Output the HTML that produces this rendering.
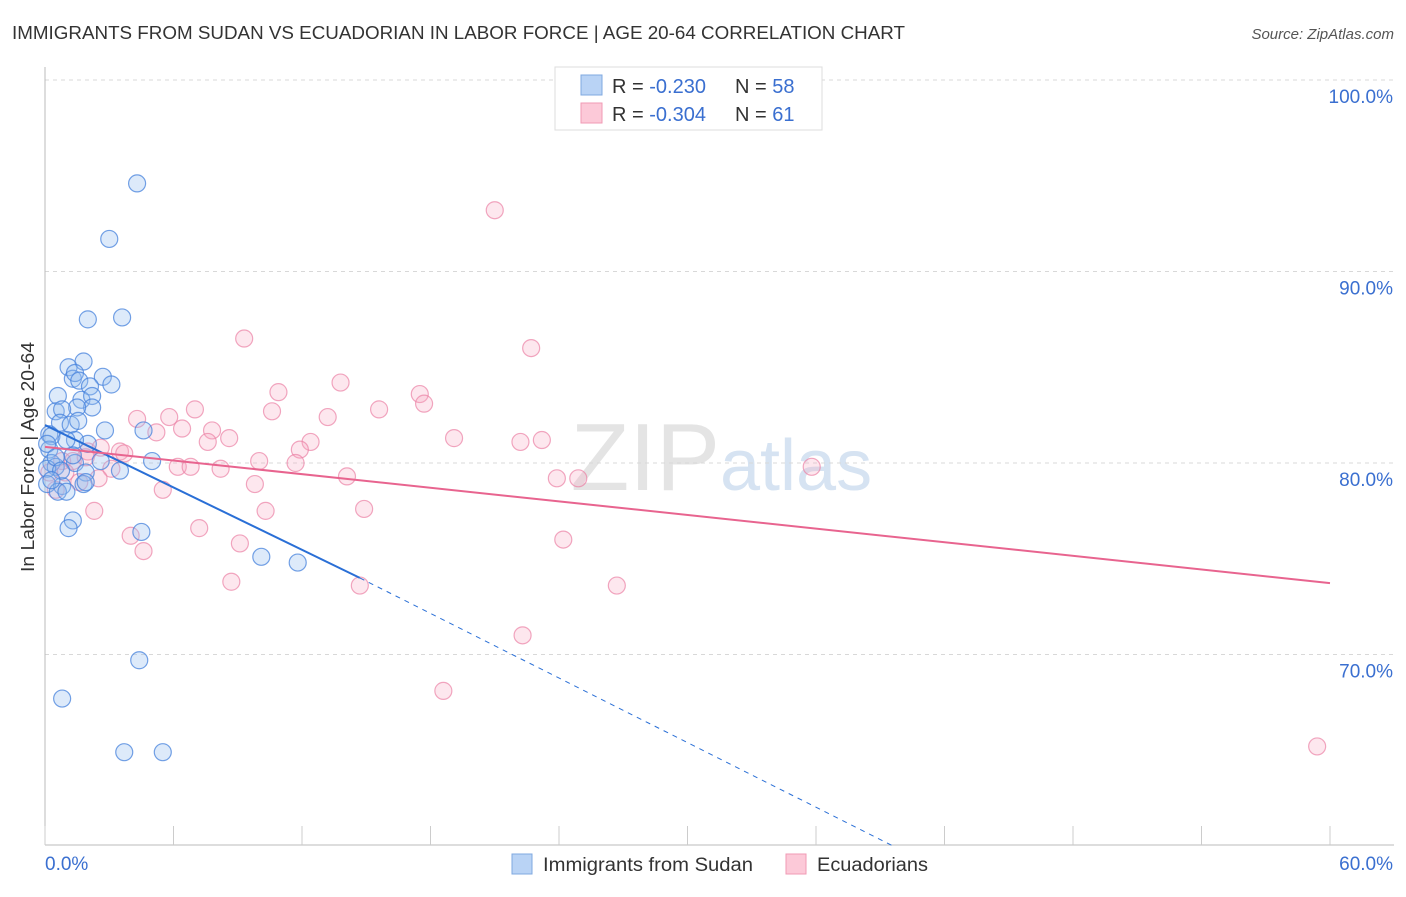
<!DOCTYPE html>
<html><head><meta charset="utf-8">
<style>
body{margin:0;background:#fff;font-family:"Liberation Sans",sans-serif;}
svg text{font-family:"Liberation Sans",sans-serif;}
</style></head>
<body>
<svg id="chart" width="1406" height="892" xmlns="http://www.w3.org/2000/svg">
<text x="12" y="39" font-size="18" fill="#333" textLength="893" lengthAdjust="spacingAndGlyphs">IMMIGRANTS FROM SUDAN VS ECUADORIAN IN LABOR FORCE | AGE 20-64 CORRELATION CHART</text>
<text x="1394" y="39" font-size="15" fill="#555" text-anchor="end" font-style="italic">Source: ZipAtlas.com</text>
<text x="720" y="490" font-size="96" fill="#e4e4e4" text-anchor="end" font-family="Liberation Serif">ZIP</text>
<text x="720" y="490" font-size="72" fill="#d6e3f2">atlas</text>
<g id="grid"></g>
<g id="axes"></g>
<g id="points"></g>
<g id="trends"></g>
<text transform="translate(34,457) rotate(-90)" font-size="18" fill="#333" text-anchor="middle" textLength="230" lengthAdjust="spacingAndGlyphs">In Labor Force | Age 20-64</text>
<g>
<rect x="555" y="67" width="267" height="63" fill="#fff" stroke="#ddd"/>
<rect x="581" y="75" width="21" height="20" fill="#b9d3f5" stroke="#7fa8e0"/>
<rect x="581" y="103" width="21" height="20" fill="#fcc9d8" stroke="#f09ab4"/>
<text x="612" y="93" font-size="20" fill="#333">R = <tspan fill="#3a6fd0">-0.230</tspan></text>
<text x="735" y="93" font-size="20" fill="#333">N = <tspan fill="#3a6fd0">58</tspan></text>
<text x="612" y="121" font-size="20" fill="#333">R = <tspan fill="#3a6fd0">-0.304</tspan></text>
<text x="735" y="121" font-size="20" fill="#333">N = <tspan fill="#3a6fd0"> 61</tspan></text>
</g>
<g>
<rect x="512" y="854" width="20" height="20" fill="#b9d3f5" stroke="#7fa8e0"/>
<text x="543" y="871" font-size="19" fill="#333" textLength="210" lengthAdjust="spacingAndGlyphs">Immigrants from Sudan</text>
<rect x="786" y="854" width="20" height="20" fill="#fcc9d8" stroke="#f09ab4"/>
<text x="817" y="871" font-size="19" fill="#333" textLength="111" lengthAdjust="spacingAndGlyphs">Ecuadorians</text>
</g>
</svg>
<script>
const xTicks=[0,6,12,18,24,30,36,42,48,54,60];
const yTicks=[100,90,80,70];
const yTickLabels=["100.0%","90.0%","80.0%","70.0%"];
const xEndLabels=["0.0%","60.0%"];
const sudanX=[4.3,3.0,2.0,3.6,1.1,1.8,1.3,1.4,2.7,3.1,1.6,2.1,0.6,1.7,2.2,2.2,1.5,0.5,0.8,0.7,1.2,2.8,4.6,0.2,0.3,2.0,1.4,5.0,0.2,0.3,0.5,1.4,1.9,0.1,1.8,0.1,0.8,0.6,1.0,1.3,1.1,4.5,10.1,11.8,4.4,0.8,3.7,5.5,0.1,0.5,1.3,0.75,0.3,1.9,1.0,2.6,3.5,1.55];
const sudanY=[94.6,91.7,87.5,87.6,85.0,85.3,84.4,84.7,84.5,84.1,84.3,84.0,83.5,83.3,83.5,82.9,82.9,82.7,82.8,82.1,82.0,81.7,81.7,81.5,81.4,81.0,81.2,80.1,80.7,80.0,79.8,80.0,79.5,79.7,78.9,78.9,78.8,78.5,78.5,77.0,76.6,76.4,75.1,74.8,69.7,67.7,64.9,64.9,81.0,80.3,80.4,79.6,79.1,79.0,81.2,80.1,79.6,82.2];
const ecuX=[21.0,22.7,9.3,10.9,13.8,17.5,17.7,15.6,10.6,13.2,7.0,5.8,4.3,6.4,5.2,7.8,8.6,7.6,12.4,11.9,19.1,22.2,23.2,3.5,3.7,2.0,0.8,1.3,10.0,11.7,6.2,6.8,8.2,3.1,0.95,2.5,1.6,35.8,23.9,24.9,14.1,9.8,5.5,2.3,10.3,14.9,7.2,4.0,4.6,9.1,24.2,8.7,14.7,26.7,22.3,18.6,59.4,0.2,0.5,1.9,2.6];
const ecuY=[93.2,86.0,86.5,83.7,84.2,83.6,83.1,82.8,82.7,82.4,82.8,82.4,82.3,81.8,81.6,81.7,81.3,81.1,81.1,80.7,81.3,81.1,81.2,80.6,80.5,80.6,80.1,80.1,80.1,80.0,79.8,79.8,79.7,79.7,79.5,79.2,79.0,79.8,79.2,79.2,79.3,78.9,78.6,77.5,77.5,77.6,76.6,76.2,75.4,75.8,76.0,73.8,73.6,73.6,71.0,68.1,65.2,79.5,78.6,80.3,80.8];
const sudanTrend=[[0,81.98],[14.7,74.0],[39.6,60.0]];
const ecuTrend=[[0,80.84],[60,73.73]];
const X0=45,X1=1330,Y100=80,YPX=19.15;
const xs=v=>X0+(X1-X0)*v/60;
const ys=v=>Y100+(100-v)*YPX;
const NS="http://www.w3.org/2000/svg";
function mk(tag,attrs,parent){const e=document.createElementNS(NS,tag);for(const k in attrs)e.setAttribute(k,attrs[k]);parent.appendChild(e);return e;}
const grid=document.getElementById('grid'),axes=document.getElementById('axes'),pts=document.getElementById('points'),tr=document.getElementById('trends');
yTicks.forEach((t,i)=>{
 const l=mk('line',{x1:X0,x2:1394,y1:ys(t),y2:ys(t),stroke:'#d8d8d8','stroke-dasharray':'4,4'},grid);
 
 
 const tx=mk('text',{x:1393,y:ys(t)+23,'font-size':19,fill:'#3a6fd0','text-anchor':'end'},axes);
 tx.textContent=yTickLabels[i];
 
 
});
const ya=mk('line',{x1:X0,x2:X0,y1:67,y2:845,stroke:'#bbb'},axes);


const xa=mk('line',{x1:X0,x2:1394,y1:845,y2:845,stroke:'#bbb'},axes);


xTicks.forEach(t=>{
 const l=mk('line',{x1:xs(t),x2:xs(t),y1:826,y2:845,stroke:'#ccc'},axes);
 
 
});
const xl0=mk('text',{x:45,y:870,'font-size':19,fill:'#3a6fd0'},axes);xl0.textContent=xEndLabels[0];


const xl1=mk('text',{x:1393,y:870,'font-size':19,fill:'#3a6fd0','text-anchor':'end'},axes);xl1.textContent=xEndLabels[1];


ecuX.forEach((v,i)=>{
 const c=mk('circle',{cx:xs(v),cy:ys(ecuY[i]),r:8.5,fill:'rgba(248,170,195,0.28)',stroke:'rgba(235,130,165,0.7)','stroke-width':1.2},pts);
 
 
});
sudanX.forEach((v,i)=>{
 const c=mk('circle',{cx:xs(v),cy:ys(sudanY[i]),r:8.5,fill:'rgba(150,190,240,0.32)',stroke:'rgba(70,130,220,0.75)','stroke-width':1.2},pts);
 
 
});
const b1=mk('line',{x1:xs(sudanTrend[0][0]),y1:ys(sudanTrend[0][1]),x2:xs(sudanTrend[1][0]),y2:ys(sudanTrend[1][1]),stroke:'#2a6fd6','stroke-width':2},tr);


const b2=mk('line',{x1:xs(sudanTrend[1][0]),y1:ys(sudanTrend[1][1]),x2:xs(sudanTrend[2][0]),y2:ys(sudanTrend[2][1]),stroke:'#2a6fd6','stroke-width':1,'stroke-dasharray':'5,5'},tr);


const p1=mk('line',{x1:xs(ecuTrend[0][0]),y1:ys(ecuTrend[0][1]),x2:xs(ecuTrend[1][0]),y2:ys(ecuTrend[1][1]),stroke:'#e8648f','stroke-width':2},tr);


</script>
</body></html>
